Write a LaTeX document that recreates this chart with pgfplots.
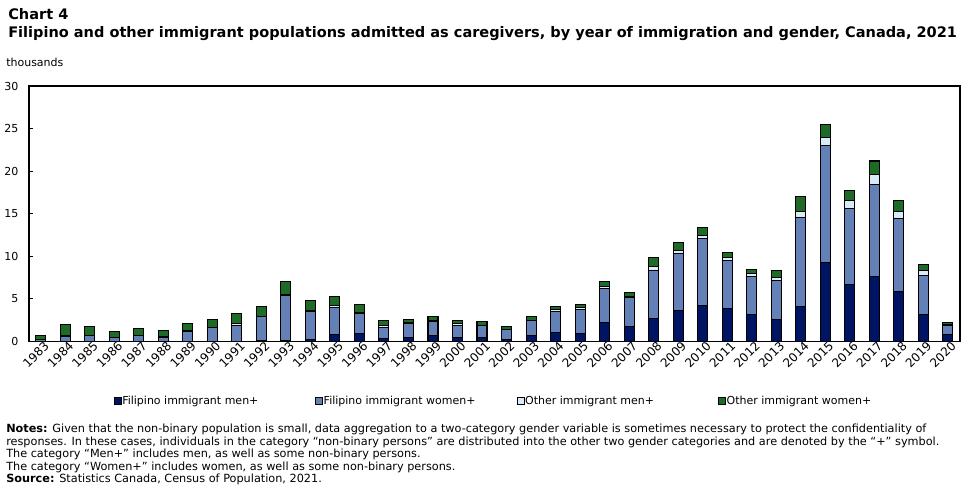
\documentclass[border=0pt]{standalone}
\usepackage{fontspec}
\setmainfont{DejaVu Sans}
\usepackage{pgfplots}
\usepackage{pgfplotstable}
\pgfplotsset{compat=1.18}

\definecolor{fmcol}{RGB}{0,20,100}
\definecolor{fwcol}{RGB}{99,129,183}
\definecolor{omcol}{RGB}{220,234,248}
\definecolor{owcol}{RGB}{29,107,39}

% thousands of persons, by year of immigration
\pgfplotstableread{
year FM   FW    OM   OW
1983 0.02 0.20  0.03 0.45
1984 0.02 0.55  0.08 1.33
1985 0.02 0.67  0.03 1.02
1986 0.02 0.43  0.03 0.68
1987 0.02 0.67  0.03 0.79
1988 0.02 0.50  0.08 0.67
1989 0.02 1.20  0.10 0.81
1990 0.02 1.60  0.03 0.92
1991 0.02 1.84  0.20 1.21
1992 0.10 2.80  0.05 1.18
1993 0.10 5.26  0.15 1.49
1994 0.25 3.27  0.12 1.14
1995 0.80 3.15  0.23 1.07
1996 0.95 2.30  0.20 0.85
1997 0.30 1.38  0.16 0.59
1998 0.45 1.62  0.15 0.33
1999 0.67 1.71  0.05 0.47
2000 0.45 1.46  0.16 0.36
2001 0.43 1.45  0.05 0.38
2002 0.23 1.20  0.03 0.26
2003 0.67 1.80  0.05 0.38
2004 1.02 2.54  0.19 0.32
2005 0.90 2.82  0.27 0.31
2006 2.23 4.03  0.19 0.55
2007 1.76 3.40  0.16 0.43
2008 2.70 5.60  0.47 1.05
2009 3.60 6.70  0.35 0.93
2010 4.20 7.85  0.35 0.95
2011 3.84 5.70  0.28 0.59
2012 3.17 4.43  0.35 0.47
2013 2.55 4.65  0.28 0.82
2014 4.07 10.52 0.63 1.76
2015 9.24 13.80 0.87 1.52
2016 6.65 9.00  0.90 1.14
2017 7.60 10.86 1.10 1.64
2018 5.83 8.57  0.82 1.29
2019 3.13 4.58  0.59 0.70
2020 0.79 1.05  0.19 0.16
}\caregivers

\newcommand{\lbl}[1]{\makebox[144.3pt][l]{#1}}

\begin{document}
\begin{tikzpicture}
\useasboundingbox (0,0) rectangle (726.75pt,-369pt);
\begin{axis}[
  at={(21.75pt,-256.125pt)}, anchor=south west,
  scale only axis, width=698.25pt, height=191.6pt,
  ybar stacked, bar width=7.5pt,
  xmin=-0.48, xmax=37.5, ymin=0, ymax=30,
  ytick={0,5,...,30}, ytick pos=left,
  xtick=data, xticklabels from table={\caregivers}{year},
  x tick style={draw=none},
  major tick length=3pt, tick align=inside,
  y tick style={black, line width=0.8pt},
  axis line style={black, line width=1pt},
  tick label style={font=\fontsize{8.25}{10}\selectfont},
  yticklabel style={xshift=-4.5pt},
  xticklabel style={font=\fontsize{9}{10}\selectfont, rotate=45, anchor=east, yshift=-4.5pt, xshift=3pt, inner sep=1pt},
  /pgf/number format/assume math mode=true,
  legend columns=4,
  legend style={at={(0.0913,-0.233)}, anchor=west, draw=none, fill=none,
    inner sep=0pt, outer sep=0pt, font=\fontsize{8.25}{10}\selectfont,
    nodes={inner sep=0.6pt},
    /tikz/every even column/.append style={column sep=0pt}},
  legend image code/.code={\draw[#1, draw=black, line width=0.4pt] (0pt,-2.6pt) rectangle (5.2pt,2.6pt);},
  every axis plot/.append style={draw=black, line width=0.8pt},
]
\addplot[fill=fmcol] table[x expr=\coordindex, y=FM] {\caregivers};
\addlegendentry{\lbl{Filipino immigrant men+}}
\addplot[fill=fwcol] table[x expr=\coordindex, y=FW] {\caregivers};
\addlegendentry{\lbl{Filipino immigrant women+}}
\addplot[fill=omcol] table[x expr=\coordindex, y=OM] {\caregivers};
\addlegendentry{\lbl{Other immigrant men+}}
\addplot[fill=owcol] table[x expr=\coordindex, y=OW] {\caregivers};
\addlegendentry{\lbl{Other immigrant women+}}
\end{axis}

\begin{scope}[x=0.75pt, y=-0.75pt]
\node[anchor=base west, inner sep=0, font=\bfseries\fontsize{10.9}{12}\selectfont] at (8,20) {Chart 4};
\node[anchor=base west, inner sep=0, font=\bfseries\fontsize{10.9}{12}\selectfont] at (8,37.5)
  {Filipino and other immigrant populations admitted as caregivers, by year of immigration and gender, Canada, 2021};
\node[anchor=base west, inner sep=0, font=\fontsize{8.25}{10}\selectfont] at (6,66.5) {thousands};
\node[anchor=north west, inner sep=0, align=left, font=\fontsize{8.45}{9.4}\selectfont] at (6,424) {%
\textbf{Notes:} Given that the non-binary population is small, data aggregation to a two-category gender variable is sometimes necessary to protect the confidentiality of\\
responses. In these cases, individuals in the category “non-binary persons” are distributed into the other two gender categories and are denoted by the “+” symbol.\\
The category “Men+” includes men, as well as some non-binary persons.\\
The category “Women+” includes women, as well as some non-binary persons.\\
\textbf{Source:} Statistics Canada, Census of Population, 2021.};
\end{scope}
\end{tikzpicture}
\end{document}
